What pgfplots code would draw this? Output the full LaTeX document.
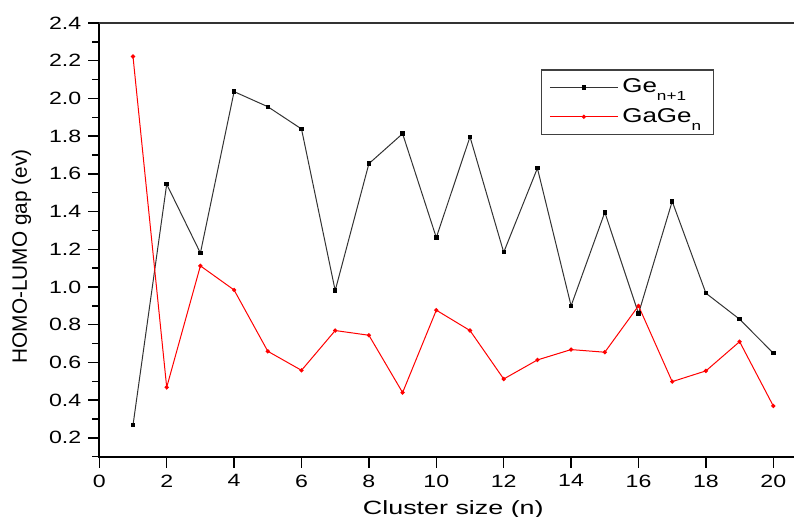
\documentclass[border=0pt]{standalone}
\usepackage{pgfplots}
\pgfplotsset{compat=1.18}
\usepackage{fontspec}
\setmainfont{Liberation Sans}
\newfontfamily\widefont{Liberation Sans}[FakeStretch=1.3]
\newfontfamily\xlabfont{Liberation Sans}[FakeStretch=1.4]
\newcommand\sub[1]{\raisebox{-4pt}{\fontsize{6.6pt}{7pt}\selectfont #1}}
\begin{document}
\begin{tikzpicture}
\begin{axis}[
  scale only axis, width=347.35pt, height=216.85pt,
  xmin=0, xmax=20.614, ymin=0.1, ymax=2.4,
  axis line style={draw=none},
  tick pos=left, tick align=outside,
  xtick={0,2,4,6,8,10,12,14,16,18,20},
  ytick={0.2,0.4,0.6,0.8,1.0,1.2,1.4,1.6,1.8,2.0,2.2,2.4},
  minor ytick={0.1,0.3,0.5,0.7,0.9,1.1,1.3,1.5,1.7,1.9,2.1,2.3},
  major tick length=5.5pt, minor tick length=3.5pt,
  tick style={black, line width=0.7pt},
  /pgf/number format/assume math mode=true,
  ticklabel style={font=\widefont\fontsize{8.9pt}{10pt}\selectfont},
  yticklabel style={/pgf/number format/.cd, fixed, fixed zerofill, precision=1},
  xlabel={Cluster size (n)},
  xlabel style={font=\xlabfont\fontsize{9.6pt}{11pt}\selectfont, at={(axis description cs:0.5096,-0.1328)}, anchor=base, inner sep=0pt},
  ylabel={HOMO-LUMO gap (ev)},
  ylabel style={font=\fontsize{10.4pt}{12pt}\selectfont, at={(axis description cs:-0.0973,0.462)}, anchor=south, inner sep=0pt},
  legend style={at={(0.6354,0.8932)}, anchor=north west, draw=black!75, line width=0.6pt,
    font=\widefont\fontsize{10pt}{11pt}\selectfont, inner xsep=4pt, inner ysep=2.5pt, row sep=2.2pt},
  legend cell align=left,
  legend image code/.code={\draw[mark repeat=2,mark phase=2,#1] plot coordinates {(0pt,0pt) (17pt,0pt) (34pt,0pt)};},
]
\addplot[black!80, line width=0.5pt, mark=square*, mark size=0.85pt, mark options={black, solid}] coordinates {
(1,0.267)(2,1.545)(3,1.18)(4,2.036)(5,1.956)(6,1.838)(7,0.981)(8,1.654)(9,1.813)(10,1.262)
(11,1.796)(12,1.184)(13,1.630)(14,0.900)(15,1.396)(16,0.859)(17,1.454)(18,0.967)(19,0.829)(20,0.649)};
\addlegendentry{Ge\sub{n+1}}
\addplot[red, line width=0.5pt, mark=*, mark size=0.8pt, mark options={red, solid}] coordinates {
(1,2.222)(2,0.468)(3,1.112)(4,0.984)(5,0.659)(6,0.558)(7,0.769)(8,0.744)(9,0.440)(10,0.877)
(11,0.769)(12,0.512)(13,0.613)(14,0.668)(15,0.654)(16,0.900)(17,0.498)(18,0.555)(19,0.710)(20,0.369)};
\addlegendentry{GaGe\sub{n}}
\coordinate (sw) at (rel axis cs:0,0);
\coordinate (ne) at (rel axis cs:1,1);
\end{axis}
\draw[line width=0.9pt] (sw |- ne) -- (sw) -- (sw -| ne);
\draw[line width=0.6pt, black!80] (sw |- ne) -- (ne);
\pgfresetboundingbox
\useasboundingbox ([xshift=-49.65pt, yshift=-30.15pt]sw) rectangle ([yshift=11.5pt]ne);
\end{tikzpicture}
\end{document}
